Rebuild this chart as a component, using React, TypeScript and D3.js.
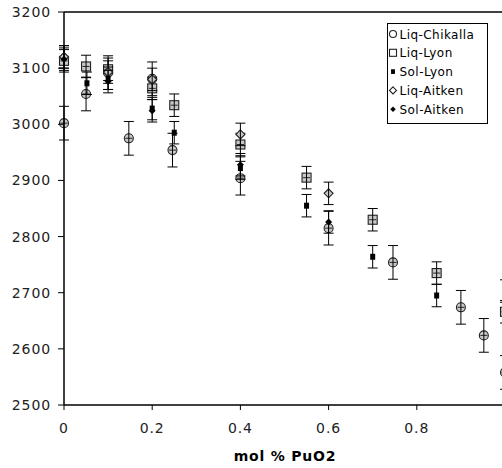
import React from "react";
import * as d3 from "d3";

const xTicks = [0, 0.2, 0.4, 0.6, 0.8];
const yTicks = [2500, 2600, 2700, 2800, 2900, 3000, 3100, 3200];

const liqChikalla: [number, number][] = [
  [0, 3002], [0.05, 3054], [0.1, 3092], [0.147, 2975], [0.2, 3081], [0.246, 2954],
  [0.4, 2904], [0.6, 2815], [0.746, 2754], [0.9, 2674], [0.952, 2624], [1.0, 2558],
];
const liqLyon: [number, number][] = [
  [0, 3113], [0.05, 3103], [0.1, 3098], [0.2, 3064], [0.25, 3034], [0.4, 2964],
  [0.55, 2905], [0.7, 2830], [0.845, 2735], [1.0, 2666],
];
const solLyon: [number, number][] = [
  [0, 3120], [0.052, 3073], [0.1, 3082], [0.2, 3028], [0.25, 2985], [0.4, 2922],
  [0.55, 2855], [0.7, 2764], [0.845, 2695], [1.0, 2703],
];
const liqAitken: [number, number][] = [
  [0, 3120], [0.1, 3093], [0.2, 3080], [0.4, 2982], [0.6, 2877],
];
const solAitken: [number, number][] = [
  [0, 3116], [0.1, 3076], [0.2, 3024], [0.4, 2928], [0.6, 2826],
];
const seriesNames = ["Liq-Chikalla", "Liq-Lyon", "Sol-Lyon", "Liq-Aitken", "Sol-Aitken"];
const seriesErr = [30, 20, 20, 20, 20];

const W = 502;
const H = 468;
const FONT = "'DejaVu Sans', Verdana, sans-serif";

function Marker({ kind, cx, cy, plot }: { kind: number; cx: number; cy: number; plot: boolean }) {
  const fill = plot ? "#c8c8c8" : "#fff";
  const stroke = "#222";
  const k = plot ? 1 : 0.78;
  if (kind === 0) return <circle cx={cx} cy={cy} r={4.5 * k} fill={fill} stroke={stroke} strokeWidth={1.1} />;
  if (kind === 1) return <rect x={cx - 4.5 * k} y={cy - 4.5 * k} width={9 * k} height={9 * k} fill={fill} stroke={stroke} strokeWidth={1.1} />;
  if (kind === 2) return <rect x={cx - 2.5 * k} y={cy - 3 * k} width={5 * k} height={6 * k} fill="#000" />;
  if (kind === 3) {
    const r = 4.5 * k;
    return <path d={`M${cx},${cy - r}L${cx + r},${cy}L${cx},${cy + r}L${cx - r},${cy}Z`} fill={fill} stroke={stroke} strokeWidth={1.1} />;
  }
  const r = 3.5 * k;
  return <path d={`M${cx},${cy - r}L${cx + r},${cy}L${cx},${cy + r}L${cx - r},${cy}Z`} fill="#000" />;
}

export default function App() {
  const x = d3.scaleLinear().domain([0, 1]).range([64, 505]);
  const y = d3.scaleLinear().domain([2500, 3200]).range([405, 12]);
  const all = [liqChikalla, liqLyon, solLyon, liqAitken, solAitken];

  return (
    <svg width={W} height={H} style={{ position: "absolute", left: 0, top: 0, background: "#fff" }} fontFamily={FONT}>
      <rect width={W} height={H} fill="#fff" />
      {/* frame */}
      <line x1={64} x2={505} y1={12} y2={12} stroke="#000" strokeWidth={1.3} />
      <line x1={505} x2={505} y1={12} y2={405} stroke="#000" strokeWidth={1.3} />
      {/* data */}
      {all.map((s, si) => (
        <g key={si}>
          {s.map(([vx, vy], i) => {
            const cx = x(vx);
            const e = seriesErr[si];
            const y1 = y(vy + e);
            const y2 = y(vy - e);
            return (
              <g key={i}>
                <Marker kind={si} cx={cx} cy={y(vy)} plot={true} />
                <line x1={cx} x2={cx} y1={y1} y2={y2} stroke="#000" strokeWidth={1} />
                <line x1={cx - 5} x2={cx + 5} y1={y1} y2={y1} stroke="#000" strokeWidth={1} />
                <line x1={cx - 5} x2={cx + 5} y1={y2} y2={y2} stroke="#000" strokeWidth={1} />
                {(si === 0 || si === 1) && (
                  <line x1={cx - 3.5} x2={cx + 3.5} y1={y(vy)} y2={y(vy)} stroke="#000" strokeWidth={0.8} />
                )}
              </g>
            );
          })}
        </g>
      ))}
      {/* axes */}
      <line x1={64} x2={64} y1={12} y2={405} stroke="#000" strokeWidth={1.5} />
      <line x1={64} x2={505} y1={405} y2={405} stroke="#000" strokeWidth={1.5} />
      {yTicks.map((t) => (
        <g key={t}>
          <line x1={58} x2={64} y1={y(t)} y2={y(t)} stroke="#000" strokeWidth={1} />
          <text x={51} y={y(t) + 5} textAnchor="end" fontSize={14} letterSpacing={0.9} fill="#222">
            {t}
          </text>
        </g>
      ))}
      {xTicks.map((t) => (
        <g key={t}>
          <line x1={x(t)} x2={x(t)} y1={405} y2={410} stroke="#000" strokeWidth={1} />
          <text x={x(t)} y={433} textAnchor="middle" fontSize={14} letterSpacing={0.9} fill="#222">
            {t}
          </text>
        </g>
      ))}
      <text x={285} y={461} textAnchor="middle" fontSize={14} fontWeight="bold" letterSpacing={0.8} fill="#000">
        mol % PuO2
      </text>
      {/* legend */}
      <rect x={387.5} y={23.5} width={100} height={100} fill="#fff" stroke="#000" strokeWidth={1} />
      {seriesNames.map((n, i) => {
        const ly = 34 + i * 18.8;
        return (
          <g key={n}>
            <Marker kind={i} cx={393} cy={ly} plot={false} />
            <text x={399.5} y={ly + 4.5} fontSize={12} letterSpacing={0.45} fill="#000">
              {n}
            </text>
          </g>
        );
      })}
    </svg>
  );
}
